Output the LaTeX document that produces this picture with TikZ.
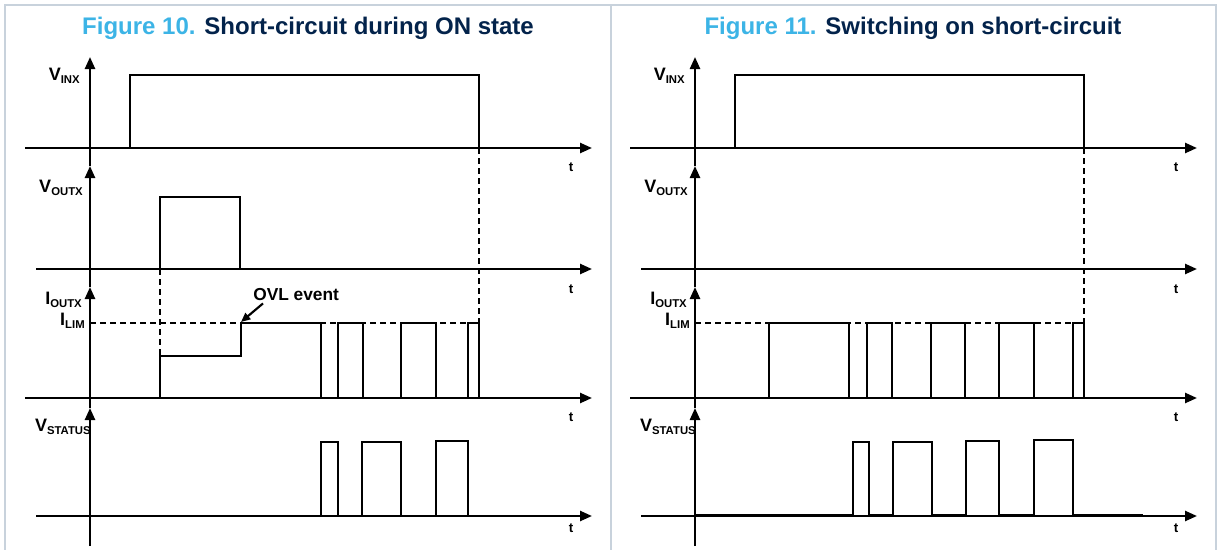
\documentclass[tikz,border=0pt]{standalone}
\usepackage{fontspec}
\setmainfont{Liberation Sans}
\usetikzlibrary{arrows.meta}
\definecolor{stlight}{HTML}{3CB4E6}
\definecolor{stdark}{HTML}{03234B}
\definecolor{framegray}{HTML}{C8D2DC}
\newcommand{\sig}[2]{#1\raisebox{-0.4ex}{\fontsize{8.5}{8.5}\selectfont #2}}
\tikzset{
  axis/.style={line width=1.8pt, -{Triangle[length=9pt,width=7.5pt]}},
  wave/.style={line width=2.2pt},
  guide/.style={line width=1.6pt, dash pattern=on 4.5pt off 3pt},
  lbl/.style={font=\fontsize{13.5}{13.5}\selectfont\bfseries, inner sep=0pt},
  tlbl/.style={font=\fontsize{10}{10}\selectfont\bfseries, inner sep=0pt},
  title/.style={font=\fontsize{18}{18}\selectfont\bfseries, text=stdark, inner sep=0pt},
}
\begin{document}
\begin{tikzpicture}[x=0.75pt, y=-0.75pt]
  \useasboundingbox (0,0) rectangle (1222,550);
  \fill[white] (0,0) rectangle (1222,550);
  % frame
  \draw[framegray, line width=1.5pt] (5,550) -- (5,5) -- (1216,5) -- (1216,550);
  \draw[framegray, line width=1.5pt] (611,5) -- (611,550);
  \node[title] (title-l) at (308,28) {\textcolor{stlight}{Figure 10.} Short-circuit during ON state};
  \node[title] (title-r) at (913,28) {\textcolor{stlight}{Figure 11.} Switching on short-circuit};

  % axes, same for both panels
  \foreach \dx/\p in {0/l, 605/r} {
    \begin{scope}[shift={(\dx,0)}]
      \draw[axis] (25,148) -- (592,148);
      \draw[axis] (36,269) -- (592,269);
      \draw[axis] (25,398) -- (592,398);
      \draw[axis] (36,516) -- (592,516);
      \draw[axis] (90,166) -- (90,57);
      \draw[axis] (90,287) -- (90,166);
      \draw[axis] (90,408) -- (90,287);
      \draw[axis] (90,546) -- (90,408);
      \node[tlbl] (\p-t1) at (571,167) {t};
      \node[tlbl] (\p-t2) at (571,289) {t};
      \node[tlbl] (\p-t3) at (571,417) {t};
      \node[tlbl] (\p-t4) at (571,528) {t};
      \node[lbl, anchor=base east] (\p-vin) at (80,80) {\sig{V}{INX}};
      \node[lbl, anchor=base east] (\p-vout) at (83,192) {\sig{V}{OUTX}};
      \node[lbl, anchor=base east] (\p-iout) at (82,304) {\sig{I}{OUTX}};
      \node[lbl, anchor=base east] (\p-ilim) at (85,325) {\sig{I}{LIM}};
      \node[lbl, anchor=base east] (\p-vst) at (91,431) {\sig{V}{STATUS}};
    \end{scope}
  }

  % Figure 10
  \draw[guide] (479,148) -- (479,323);
  \draw[guide] (160,269) -- (160,356);
  \draw[guide] (90,323) -- (479,323);
  \draw[wave] (90,148) -- (130,148) -- (130,75) -- (479,75) -- (479,148) -- (525,148);
  \draw[wave] (90,269) -- (160,269) -- (160,197) -- (240,197) -- (240,269) -- (538,269);
  \draw[wave] (90,398) -- (160,398) -- (160,356) -- (241,356) -- (241,323) -- (321,323)
    -- (321,398) -- (338,398) -- (338,323) -- (363,323) -- (363,398) -- (401,398)
    -- (401,323) -- (436,323) -- (436,398) -- (468,398) -- (468,323) -- (479,323)
    -- (479,398) -- (538,398);
  \draw[wave] (90,516) -- (321,516) -- (321,442) -- (338,442) -- (338,516) -- (362,516)
    -- (362,442) -- (401,442) -- (401,516) -- (436,516) -- (436,441) -- (468,441)
    -- (468,516) -- (538,516);
  \node[lbl, font=\fontsize{13}{13}\selectfont\bfseries, anchor=base west] (ovl) at (253,300) {OVL event};
  \coordinate (ovl-pt) at (241,322);
  \draw[line width=1.6pt, -{Triangle[length=7pt,width=6pt]}] ([shift={(10,3)}]ovl.south west) -- (ovl-pt);

  % Figure 11
  \draw[guide] (1084,148) -- (1084,323);
  \draw[guide] (695,323) -- (1084,323);
  \draw[wave] (695,148) -- (735,148) -- (735,75) -- (1084,75) -- (1084,148) -- (1130,148);
  \draw[wave] (695,269) -- (1143,269);
  \draw[wave] (695,398) -- (769,398) -- (769,323) -- (849,323) -- (849,398) -- (867,398)
    -- (867,323) -- (892,323) -- (892,398) -- (931,398) -- (931,323) -- (965,323)
    -- (965,398) -- (999,398) -- (999,323) -- (1034,323) -- (1034,398) -- (1073,398)
    -- (1073,323) -- (1084,323) -- (1084,398) -- (1143,398);
  \draw[wave] (695,515) -- (853,515) -- (853,442) -- (869,442) -- (869,515) -- (893,515)
    -- (893,442) -- (932,442) -- (932,515) -- (966,515) -- (966,441) -- (999,441)
    -- (999,515) -- (1034,515) -- (1034,440) -- (1073,440) -- (1073,515) -- (1143,515);
\end{tikzpicture}
\end{document}
